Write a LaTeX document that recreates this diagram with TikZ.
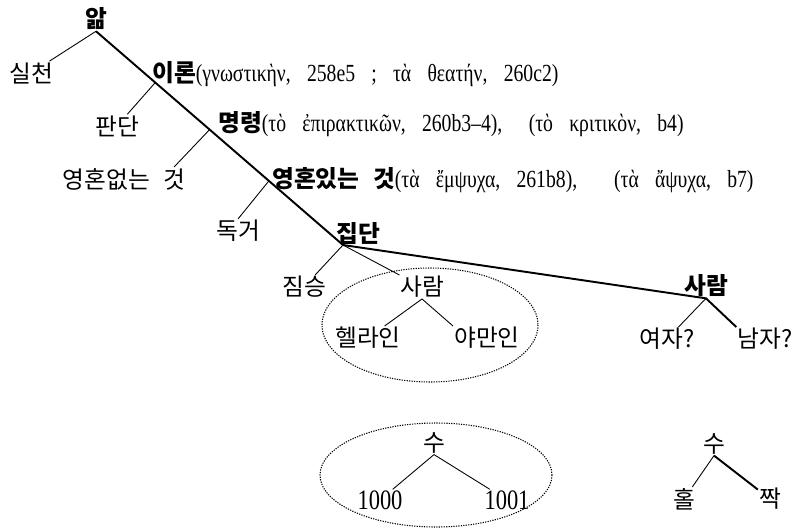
\documentclass[tikz,border=0pt]{standalone}
\usepackage{fontspec}
\usepackage{tikz}
\usetikzlibrary{calc}
\setmainfont[WordSpace=2.5]{Noto Sans CJK KR}
\newfontfamily\grk[FakeStretch=0.8,WordSpace=3.3]{Liberation Serif}
\newcommand{\grtxt}[1]{{\grk\fontsize{14}{16}\selectfont #1}}

\begin{document}
\begin{tikzpicture}[x=0.02cm,y=-0.02cm,font=\fontsize{13.5}{16}\selectfont,
  every node/.style={inner sep=0.5pt},
  head/.style={font=\fontsize{13.5}{16}\selectfont\bfseries},
  num/.style={font=\grk\fontsize{16}{18}\selectfont},
  trunk/.style={line width=1.1pt},
  twig/.style={line width=0.5pt},
  grp/.style={dash pattern=on 0.7pt off 0.7pt,line width=0.6pt}]
  \clip (0,0) rectangle (795,528);

  % upper tree
  \node[head] (al) at (96,19) {앎};
  \node (silcheon) at (31,73) {실천};
  \node[anchor=base west] (iron) at (151,81)
    {\textbf{이론}\grtxt{(γνωστικὴν, 258e5 ; τὰ θεατήν, 260c2)}};
  \node (pandan) at (117,126) {판단};
  \node[anchor=base west] (myeong) at (217,131)
    {\textbf{명령}\grtxt{(τὸ ἐπιρακτικῶν, 260b3–4),\hspace{15pt}(τὸ κριτικὸν, b4)}};
  \node (ohne) at (124,179) {영혼없는 것};
  \node[anchor=base west] (mit) at (271,187)
    {\textbf{영혼있는 것}\grtxt{(τὰ ἔμψυχα, 261b8),\hspace{21pt}(τὰ ἄψυχα, b7)}};
  \node (dokgeo) at (238,231) {독거};
  \node[head] (jipdan) at (358,234) {집단};
  \node (jim) at (304,287) {짐승};
  \node (saram) at (422,287) {사람};
  \node (hella) at (368,338) {헬라인};
  \node (yaman) at (487,338) {야만인};
  \node[head] (saramr) at (706,286) {사람};
  \node (yeoja) at (667,339) {여자?};
  \node (namja) at (765,339) {남자?};

  % numbers
  \node (su) at (434,443) {수};
  \node[num] (n1000) at (380,500) {1000};
  \node[num] (n1001) at (507,500) {1001};
  \node (su2) at (714,444) {수};
  \node (hol) at (684,499) {홀};
  \node (jjak) at (770,499) {짝};

  \coordinate (jd) at (343,245);
  \coordinate (b1) at ($(al.south)!0.24!(jd)$);
  \coordinate (b2) at ($(al.south)!0.46!(jd)$);
  \coordinate (b3) at ($(al.south)!0.70!(jd)$);
  \coordinate (ohneend) at ([xshift=-7pt]ohne.north east);

  \draw[trunk] (al.south) -- (jd) -- (saramr.south) -- (namja.north west);
  \draw[trunk] (su2.south) -- (jjak);
  \foreach \a/\b in {al.south/silcheon, b1/pandan, b2/ohneend,
      b3/dokgeo.north, jd/jim, jd/saram, saram.south/hella, saram.south/yaman.north west,
      saramr.south/yeoja, su.south/n1000, su.south/n1001, su2.south/hol}
    \draw[twig] (\a) -- (\b);

  \draw[grp] (430,325) ellipse [x radius=108,y radius=57];
  \draw[grp] (436,475) ellipse [x radius=116,y radius=52];
\end{tikzpicture}
\end{document}
